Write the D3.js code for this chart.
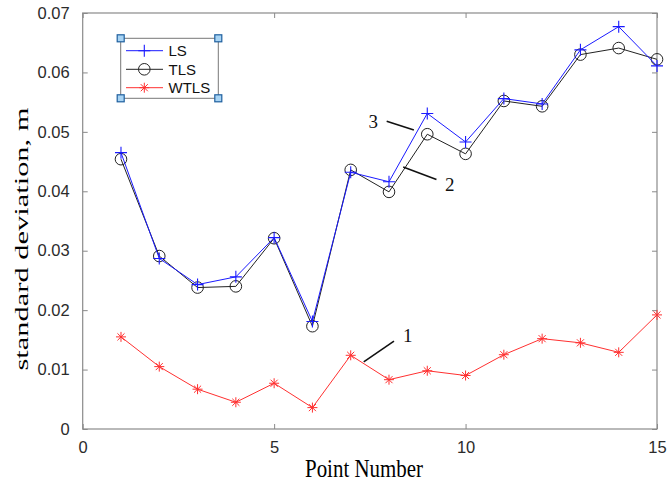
<!DOCTYPE html>
<html><head><meta charset="utf-8">
<script src="https://cdn.jsdelivr.net/npm/d3@7"></script>
<style>body{margin:0;background:#fff}svg{display:block}</style>
</head><body>
<svg id="c" width="672" height="484"></svg>
<script>
const pointNumbers = [1,2,3,4,5,6,7,8,9,10,11,12,13,14,15];
const lsValues   = [0.0465,0.0287,0.0243,0.0256,0.0322,0.0181,0.0432,0.0416,0.0531,0.0483,0.0556,0.0547,0.0638,0.0677,0.0611];
const tlsValues  = [0.0454,0.0291,0.0238,0.0240,0.0321,0.0173,0.0436,0.0399,0.0496,0.0463,0.0552,0.0543,0.0630,0.0641,0.0622];
const wtlsValues = [0.0155,0.0105,0.0067,0.0045,0.0077,0.0036,0.0124,0.0083,0.0098,0.0090,0.0125,0.0152,0.0145,0.0129,0.0192];
const xTicks = [0,5,10,15];
const yTicks = [0,0.01,0.02,0.03,0.04,0.05,0.06,0.07];
const yTickLabels = ["0","0.01","0.02","0.03","0.04","0.05","0.06","0.07"];
const seriesNames = ["LS","TLS","WTLS"];
const annotations = [
  {label:"3", tx:7.59, ty:0.0518, x1:7.94, y1:0.0518, x2:8.65, y2:0.0503},
  {label:"2", tx:9.59, ty:0.0412, x1:8.37, y1:0.0441, x2:9.24, y2:0.0420},
  {label:"1", tx:8.49, ty:0.0158, x1:7.34, y1:0.0113, x2:8.13, y2:0.0148}
];

const svg = d3.select("#c");
const L = 82.7, R = 657, T = 13, B = 429;
const x = d3.scaleLinear().domain([0,15]).range([L,R]);
const y = d3.scaleLinear().domain([0,0.07]).range([B,T]);
const axisColor = "#8a8a8a", textColor = "#2b2b2b";

svg.append("rect").attr("x",L).attr("y",T).attr("width",R-L).attr("height",B-T)
  .attr("fill","none").attr("stroke",axisColor).attr("stroke-width",1.2);

const gx = svg.append("g").attr("transform",`translate(0,${B})`)
  .call(d3.axisBottom(x).tickValues(xTicks).tickSize(-5).tickPadding(12).tickFormat(d3.format("d")));
const gxTop = svg.append("g").attr("transform",`translate(0,${T})`)
  .call(d3.axisTop(x).tickValues(xTicks).tickSize(-5).tickFormat(""));
const gy = svg.append("g").attr("transform",`translate(${L},0)`)
  .call(d3.axisLeft(y).tickValues(yTicks).tickSize(-5).tickPadding(13).tickFormat((d,i)=>yTickLabels[i]));
const gyR = svg.append("g").attr("transform",`translate(${R},0)`)
  .call(d3.axisRight(y).tickValues(yTicks).tickSize(-5).tickFormat(""));
[gx,gxTop,gy,gyR].forEach(g=>{
  g.select(".domain").remove();
  g.selectAll(".tick line").attr("stroke",axisColor);
  g.selectAll(".tick text").attr("fill",textColor).attr("font-family","Liberation Sans, Arial, sans-serif").attr("font-size",16.5);
});

svg.append("text").attr("x",364).attr("y",477).attr("text-anchor","middle")
  .attr("font-family","Liberation Serif, Times New Roman, serif").attr("font-size",25)
  .attr("textLength",118).attr("lengthAdjust","spacingAndGlyphs").attr("fill","#000").text("Point Number");
svg.append("text").attr("transform","translate(28,239) rotate(-90)").attr("text-anchor","middle")
  .attr("font-family","Liberation Serif, Times New Roman, serif").attr("font-size",18.5)
  .attr("textLength",263).attr("lengthAdjust","spacingAndGlyphs").attr("fill","#000").text("standard deviation, m");

const line = d3.line().x((d,i)=>x(pointNumbers[i])).y(d=>y(d));
const series = [
  {vals:lsValues, color:"#1a1aff", marker:"plus"},
  {vals:tlsValues, color:"#222", marker:"circle"},
  {vals:wtlsValues, color:"#ff3030", marker:"star"}
];
function drawMarker(g, type, cx, cy, color){
  if(type==="plus"){
    g.append("path").attr("d",`M${cx-6},${cy}H${cx+6}M${cx},${cy-6}V${cy+6}`).attr("stroke",color).attr("stroke-width",1.1).attr("fill","none");
  } else if(type==="circle"){
    g.append("circle").attr("cx",cx).attr("cy",cy).attr("r",5.8).attr("stroke",color).attr("stroke-width",1).attr("fill","none");
  } else {
    const r=5, d=r*0.707;
    g.append("path").attr("d",`M${cx-r},${cy}H${cx+r}M${cx},${cy-r}V${cy+r}M${cx-d},${cy-d}L${cx+d},${cy+d}M${cx-d},${cy+d}L${cx+d},${cy-d}`)
      .attr("stroke",color).attr("stroke-width",1).attr("fill","none");
  }
}
[series[2],series[1],series[0]].forEach(s=>{
  const g = svg.append("g");
  g.append("path").datum(s.vals).attr("d",line).attr("fill","none").attr("stroke",s.color).attr("stroke-width",1);
  s.vals.forEach((v,i)=>drawMarker(g,s.marker,x(pointNumbers[i]),y(v),s.color));
});

annotations.forEach(a=>{
  svg.append("line").attr("x1",x(a.x1)).attr("y1",y(a.y1)).attr("x2",x(a.x2)).attr("y2",y(a.y2))
    .attr("stroke","#111").attr("stroke-width",1.6);
  svg.append("text").attr("x",x(a.tx)).attr("y",y(a.ty)).attr("dy","0.35em").attr("text-anchor","middle")
    .attr("font-family","Liberation Serif, Times New Roman, serif").attr("font-size",19).attr("fill","#111").text(a.label);
});

const lg = svg.append("g");
const bx1=120.7, by1=38.3, bx2=218.3, by2=98.3;
lg.append("rect").attr("x",bx1).attr("y",by1).attr("width",bx2-bx1).attr("height",by2-by1)
  .attr("fill","#fff").attr("stroke","#777").attr("stroke-width",1);
const rowsY=[50.7,69.3,87.7];
series.forEach((s,i)=>{
  lg.append("line").attr("x1",126).attr("x2",163).attr("y1",rowsY[i]).attr("y2",rowsY[i]).attr("stroke",s.color).attr("stroke-width",1);
  drawMarker(lg,s.marker,144.3,rowsY[i],s.color);
  lg.append("text").attr("x",168.5).attr("y",rowsY[i]).attr("dy","0.36em")
    .attr("font-family","Liberation Sans, Arial, sans-serif").attr("font-size",15).attr("fill","#111").text(seriesNames[i]);
});
[[bx1,by1],[bx2,by1],[bx1,by2],[bx2,by2]].forEach(([hx,hy])=>{
  lg.append("rect").attr("x",hx-3.5).attr("y",hy-3.5).attr("width",7).attr("height",7)
    .attr("fill","#a8d4f4").attr("stroke","#1f5f9f").attr("stroke-width",1.2);
});
</script>
</body></html>
